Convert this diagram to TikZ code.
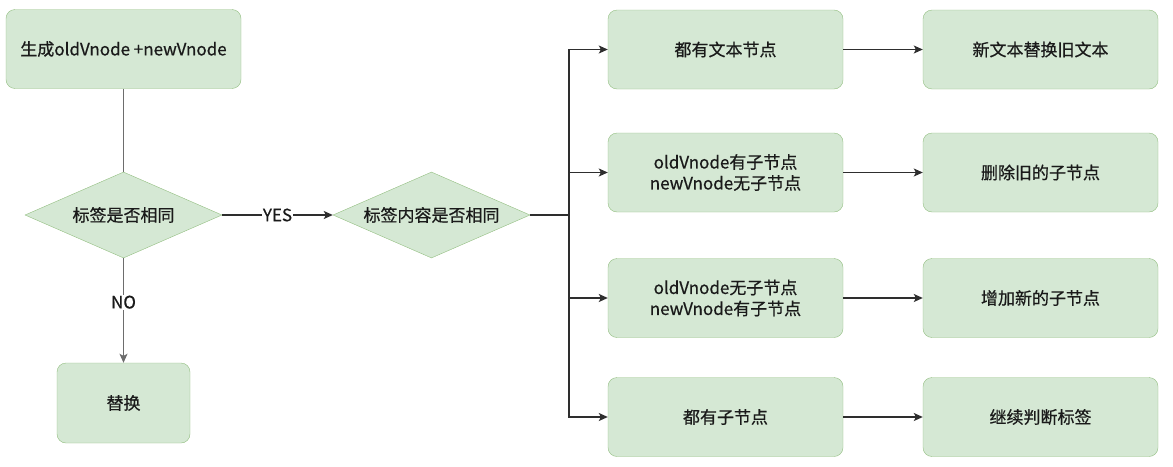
\documentclass[tikz,border=0pt]{standalone}
\usepackage{fontspec}
\setmainfont{Noto Sans CJK SC}[FakeBold=0.6]
\usetikzlibrary{shapes.geometric,arrows.meta}
\definecolor{boxfill}{HTML}{D5E8D4}
\definecolor{boxline}{HTML}{92BE80}
\definecolor{linegray}{HTML}{2E2E2E}
\definecolor{textgray}{HTML}{1A1A1A}
\begin{document}
\begin{tikzpicture}[x=1pt, y=-1pt, font=\fontsize{17}{21}\selectfont, text=textgray,
    box/.style={draw=boxline, fill=boxfill, rounded corners=9pt, minimum width=235pt, minimum height=79pt, align=center, inner sep=0pt},
    cond/.style={diamond, draw=boxline, fill=boxfill, aspect=2.3, minimum width=197pt, minimum height=86pt, inner sep=0pt},
    link/.style={draw=linegray, line width=1.3pt},
    >={Stealth[length=9pt,width=8pt,inset=2pt]}]
\useasboundingbox (0,0) rectangle (1173,466);
% left column
\node[box] (start) at (123.5,49) {生成oldVnode +newVnode};
\node[cond] (same) at (123.5,215) {标签是否相同};
\node[box, minimum width=133pt, minimum height=80pt] (swap) at (123.5,403) {替换};
\node[cond] (content) at (431.5,215) {标签内容是否相同};
\coordinate (split) at (569,215);
% middle column
\node[box] (bothtext) at (725.5,49.5) {都有文本节点};
\node[box] (oldonly) at (725.5,172.5) {oldVnode有子节点\\newVnode无子节点};
\node[box] (newonly) at (725.5,298) {oldVnode无子节点\\newVnode有子节点};
\node[box] (bothchild) at (725.5,417) {都有子节点};
% right column
\node[box] (newtext) at (1040.5,49.5) {新文本替换旧文本};
\node[box] (delchild) at (1040.5,172.5) {删除旧的子节点};
\node[box] (addchild) at (1040.5,298) {增加新的子节点};
\node[box] (goon) at (1040.5,417) {继续判断标签};
% connectors
\draw[link, draw=linegray!70] (start) -- (same);
\draw[link, draw=linegray!70, ->] (same) -- node[fill=white, pos=.42, inner sep=1pt] {NO} (swap);
\draw[link, ->] (same) -- node[fill=white, inner sep=1pt] {YES} (content);
\draw[link] (content) -- (split);
\draw[link, ->] (split) |- (bothtext);
\draw[link, ->] (split) |- (oldonly);
\draw[link, ->] (split) |- (newonly);
\draw[link, ->] (split) |- (bothchild);
\draw[link, ->] (bothtext) -- (newtext);
\draw[link, ->] (oldonly) -- (delchild);
\draw[link, ->] (newonly) -- (addchild);
\draw[link, ->] (bothchild) -- (goon);
\end{tikzpicture}
\end{document}
